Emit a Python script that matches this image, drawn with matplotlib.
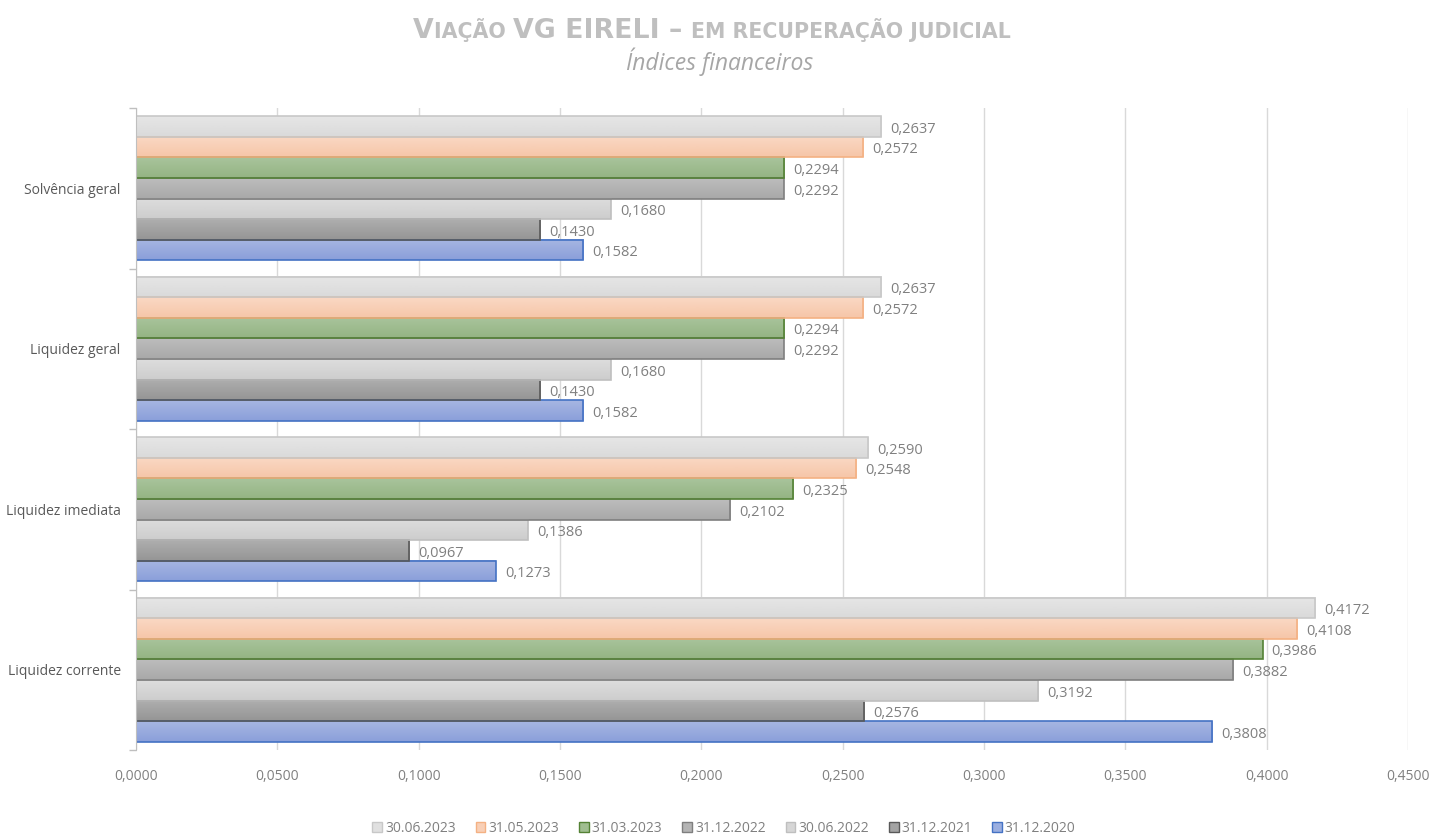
import matplotlib
matplotlib.use("Agg")
import matplotlib.pyplot as plt
import numpy as np
from matplotlib.patches import Patch
from matplotlib.colors import LinearSegmentedColormap

categories = ["Liquidez corrente", "Liquidez imediata", "Liquidez geral", "Solvência geral"]
series_names = ["31.12.2020", "31.12.2021", "30.06.2022", "31.12.2022",
                "31.03.2023", "31.05.2023", "30.06.2023"]
s_2020_12 = [0.3808, 0.1273, 0.1582, 0.1582]
s_2021_12 = [0.2576, 0.0967, 0.1430, 0.1430]
s_2022_06 = [0.3192, 0.1386, 0.1680, 0.1680]
s_2022_12 = [0.3882, 0.2102, 0.2292, 0.2292]
s_2023_03 = [0.3986, 0.2325, 0.2294, 0.2294]
s_2023_05 = [0.4108, 0.2548, 0.2572, 0.2572]
s_2023_06 = [0.4172, 0.2590, 0.2637, 0.2637]
series_values = [s_2020_12, s_2021_12, s_2022_06, s_2022_12, s_2023_03, s_2023_05, s_2023_06]
x_ticks = [0.0, 0.05, 0.10, 0.15, 0.20, 0.25, 0.30, 0.35, 0.40, 0.45]

tops = ["#A7B6E2", "#AEAEAE", "#DDDDDD", "#BDBDBD", "#A9C49C", "#FAD8C4", "#E6E6E6"]
bottoms = ["#8A9FDA", "#959595", "#CDCDCD", "#A8A8A8", "#94B483", "#F6C6A8", "#DADADA"]
faces = ["#9AAEE0", "#A3A3A3", "#D6D6D6", "#B4B4B4", "#A0BE90", "#F8CFB6", "#E0E0E0"]
edges = ["#4472C4", "#595959", "#BFBFBF", "#7F7F7F", "#548235", "#F4B183", "#C8C8C8"]

FONT = "Open Sans"
TXT = "#808080"

fig = plt.figure(figsize=(14.3, 8.35), dpi=100)
ax = fig.add_axes([136/1430, 1 - 750/835, (1408 - 136)/1430, (750 - 108)/835])

h = 0.128
n = len(series_names)
yc = np.arange(len(categories))
for j in range(n):
    ys = yc + (j - (n - 1) / 2) * h
    vals = series_values[j]
    cmap = LinearSegmentedColormap.from_list("g%d" % j, [bottoms[j], tops[j]])
    for y, v in zip(ys, vals):
        grad = np.linspace(0, 1, 50).reshape(-1, 1)
        ax.imshow(grad, extent=(0, v, y - h / 2, y + h / 2), origin="lower",
                  cmap=cmap, aspect="auto", zorder=2, interpolation="bilinear")
    ax.barh(ys, vals, height=h, facecolor="none", edgecolor=edges[j], linewidth=1.2, zorder=3)
    for y, v in zip(ys, vals):
        ax.annotate(("%.4f" % v).replace(".", ","), xy=(v, y), xytext=(6.5, -2),
                    textcoords="offset points", va="center", ha="left",
                    fontsize=10.5, color=TXT, family=FONT, zorder=4)

ax.set_xlim(0, 0.45)
ax.set_ylim(-0.5, len(categories) - 0.5)
ax.set_xticks(x_ticks)
ax.set_xticklabels([("%.4f" % t).replace(".", ",") for t in x_ticks], fontsize=10,
                   color=TXT, family=FONT)
ax.tick_params(axis="x", length=0, pad=14)
ax.set_yticks(yc)
ax.set_yticklabels(categories, fontsize=10, color="#595959", family=FONT)
ax.tick_params(axis="y", which="major", length=0, pad=11)
ax.set_yticks(np.arange(-0.5, len(categories)), minor=True)
ax.tick_params(axis="y", which="minor", length=5, color="#BFBFBF", width=1)
ax.grid(axis="x", color="#D9D9D9", linewidth=1, zorder=0)
ax.set_axisbelow(True)
for s in ["top", "right", "bottom"]:
    ax.spines[s].set_visible(False)
ax.spines["left"].set_color("#BFBFBF")
ax.spines["left"].set_zorder(5)

# Title in small caps, built from pieces
fig.canvas.draw()
renderer = fig.canvas.get_renderer()
pieces = [("V", 19.3), ("IAÇÃO ", 14.8), ("VG EIRELI – ", 19.3), ("EM RECUPERAÇÃO JUDICIAL", 14.8)]
texts = []
for s, fs in pieces:
    t = fig.text(0, 1 - 38/835, s, fontsize=fs, fontweight="bold", color="#BFBFBF",
                 family="DejaVu Sans", ha="left", va="baseline")
    texts.append(t)
widths = [t.get_window_extent(renderer).width for t in texts]
total = sum(widths)
x = (712 - total / 2)
for t, w in zip(texts, widths):
    t.set_x(x / 1430)
    x += w

fig.text(720/1430, 1 - 62/835, "Índices financeiros", fontsize=16.5, style="italic",
         color="#A6A6A6", family=FONT, ha="center", va="center")

handles = [Patch(facecolor=faces[j], edgecolor=edges[j], label=series_names[j])
           for j in range(n - 1, -1, -1)]
fig.legend(handles=handles, loc="center", bbox_to_anchor=(724/1430, 1 - 828/835), ncol=n,
           frameon=False, handlelength=0.7, handleheight=0.7, handletextpad=0.2,
           columnspacing=1.45, prop={"family": FONT, "size": 10}, labelcolor=TXT)

fig.savefig("out.png", dpi=100)
